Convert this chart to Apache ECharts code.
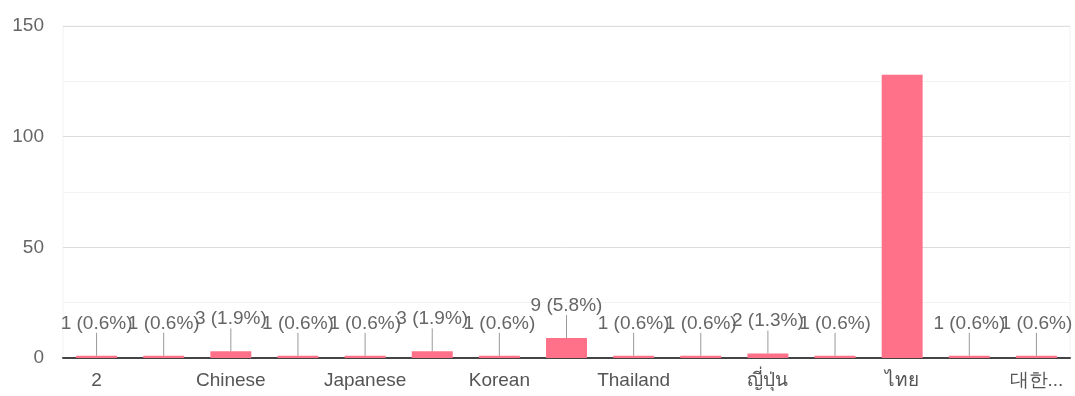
<!DOCTYPE html>
<html><head><meta charset="utf-8">
<script src="https://cdn.jsdelivr.net/npm/echarts@6/dist/echarts.min.js"></script>
<style>html,body{margin:0;padding:0;background:#fff}#c{width:1075px;height:396px}</style>
</head><body><div id="c"></div>
<script>
const categories = ["2","China","Chinese","English","Japanese","Korea","Korean","Thai","Thailand","thai","ญี่ปุ่น","เกาหลี","ไทย","中文","대한민국"];
const values = [1,1,3,1,1,3,1,9,1,1,2,1,128,1,1];
const yTicks = [0,50,100,150];
const total = values.reduce((a,b)=>a+b,0);
const FONT = 'Liberation Sans, Arial, sans-serif';
const chart = echarts.init(document.getElementById('c'));
chart.setOption({
  animation:false,
  grid:{left:63,right:5,top:26,bottom:38,show:true,borderColor:'#f2f2f2',borderWidth:1},
  xAxis:{type:'category',data:categories,
    axisLine:{lineStyle:{color:'#444',width:2}},axisTick:{show:false},
    axisLabel:{interval:1,color:'#555',fontSize:19,fontFamily:FONT,margin:13,
      formatter:v=>v==='대한민국'?'대한...':v}},
  yAxis:{type:'value',min:0,max:150,interval:25,
    axisLine:{show:false},axisTick:{show:false},
    axisLabel:{color:'#666',fontSize:19,fontFamily:FONT,margin:19,
      formatter:v=>yTicks.indexOf(v)>=0?String(v):''},
    splitLine:{lineStyle:{color:['#dcdcdc','#f3f3f3'],width:1}}},
  series:[{type:'bar',data:values.map(v=>({value:v,label:{show:v<100}})),barWidth:'61%',
    itemStyle:{color:'#ff7189'},
    label:{position:'top',distance:0,color:'#666',fontSize:19,fontFamily:FONT,
      formatter:p=>p.value+' ('+(p.value/total*100).toFixed(1)+'%)'},
    labelLayout:{dy:-23,hideOverlap:false},
    labelLine:{show:true,lineStyle:{color:'#999',width:1}}
  }]
});
</script></body></html>
